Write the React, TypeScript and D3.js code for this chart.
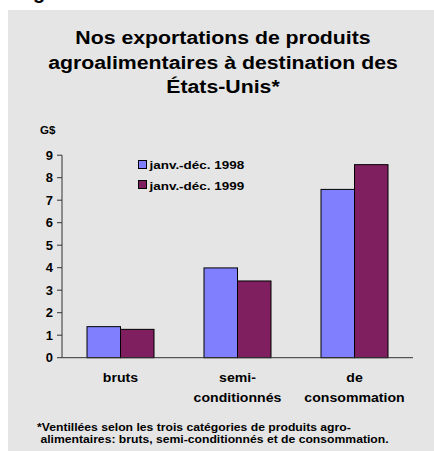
import React from "react";
import * as d3 from "d3";

const categories: string[][] = [["bruts"], ["semi-", "conditionnés"], ["de", "consommation"]];
const categoryKeys = ["bruts", "semi-conditionnés", "de consommation"];
const seriesNames = ["janv.-déc. 1998", "janv.-déc. 1999"];
const values1998 = [1.38, 3.99, 7.48];
const values1999 = [1.26, 3.41, 8.58];
const yTicks = [0, 1, 2, 3, 4, 5, 6, 7, 8, 9];
const titleLines = ["Nos exportations de produits", "agroalimentaires à destination des", "États-Unis*"];
const footnoteLines = [
  "*Ventillées selon les trois catégories de produits agro-",
  " alimentaires: bruts, semi-conditionnés et de consommation.",
];
const colors = ["#8080ff", "#7f1f5f"];

const W = 434;
const H = 451;
const FONT = "'Liberation Sans', Arial, Helvetica, sans-serif";

function T(props: {
  x: number;
  y: number;
  sx?: number;
  size: number;
  anchor?: "start" | "middle" | "end";
  children: React.ReactNode;
}) {
  const { x, y, sx = 1, size, anchor = "start", children } = props;
  return (
    <text
      transform={`translate(${x},${y}) scale(${sx},1)`}
      textAnchor={anchor}
      fontSize={size}
      fontWeight="bold"
      fill="#000"
      style={{ whiteSpace: "pre" }}
    >
      {children}
    </text>
  );
}

export default function App() {
  const left = 62;
  const right = 413;
  const top = 155.2;
  const bottom = 357.7;

  const x0 = d3.scaleBand<string>().domain(categoryKeys).range([left, right]).paddingInner(0).paddingOuter(0);
  const groupW = 67;
  const x1 = d3.scaleBand<string>().domain(seriesNames).range([0, groupW]).padding(0);
  const y = d3.scaleLinear().domain([0, 9]).range([bottom, top]);
  const series = [values1998, values1999];

  return (
    <svg
      width={W}
      height={H}
      style={{ position: "absolute", left: 0, top: 0, display: "block" }}
      fontFamily={FONT}
    >
      <rect x={0} y={0} width={W} height={H} fill="#ffffff" />
      <text x={33} y={-1} fontSize={20} fontWeight="bold" fill="#000">g</text>
      <rect x={8} y={10} width={W - 8} height={H - 10} fill="#e5e5e5" />

      {titleLines.map((t, i) => (
        <T key={i} x={223} y={44 + i * 24.5} sx={1.15} size={18.5} anchor="middle">
          {t}
        </T>
      ))}

      <T x={40} y={134} sx={1.05} size={11}>G$</T>

      {/* y axis */}
      <line x1={left} x2={left} y1={top} y2={bottom} stroke="#333" strokeWidth={1} />
      {yTicks.map((t) => (
        <g key={t}>
          <line x1={left - 5} x2={left} y1={y(t)} y2={y(t)} stroke="#333" strokeWidth={1} />
          <T x={53} y={y(t) + 4.3} size={12} sx={1.08} anchor="end">
            {String(t)}
          </T>
        </g>
      ))}

      {/* bars */}
      {categoryKeys.map((c, ci) => {
        const gx = (x0(c) as number) + (x0.bandwidth() - groupW) / 2;
        return (
          <g key={c}>
            {seriesNames.map((s, si) => (
              <rect
                key={s}
                x={gx + (x1(s) as number)}
                y={y(series[si][ci])}
                width={x1.bandwidth()}
                height={bottom - y(series[si][ci])}
                fill={colors[si]}
                stroke="#000"
                strokeWidth={1}
              />
            ))}
          </g>
        );
      })}

      {/* x axis */}
      <line x1={left} x2={right} y1={bottom} y2={bottom} stroke="#333" strokeWidth={1} />

      {categoryKeys.map((c, ci) => {
        const cx = (x0(c) as number) + x0.bandwidth() / 2;
        return categories[ci].map((line, li) => (
          <T key={c + li} x={cx} y={382 + li * 19.5} size={12.5} sx={1.13} anchor="middle">
            {line}
          </T>
        ));
      })}

      {/* legend */}
      {seriesNames.map((s, si) => (
        <g key={s}>
          <rect x={138.5} y={160.5 + si * 20} width={8} height={8} fill={colors[si]} stroke="#000" strokeWidth={1} />
          <T x={149.5} y={169 + si * 20.5} size={11.5} sx={1.17}>
            {s}
          </T>
        </g>
      ))}

      {/* footnote */}
      {footnoteLines.map((t, i) => (
        <T key={i} x={37} y={431 + i * 12} size={10.5} sx={1.16}>
          {t}
        </T>
      ))}
    </svg>
  );
}
